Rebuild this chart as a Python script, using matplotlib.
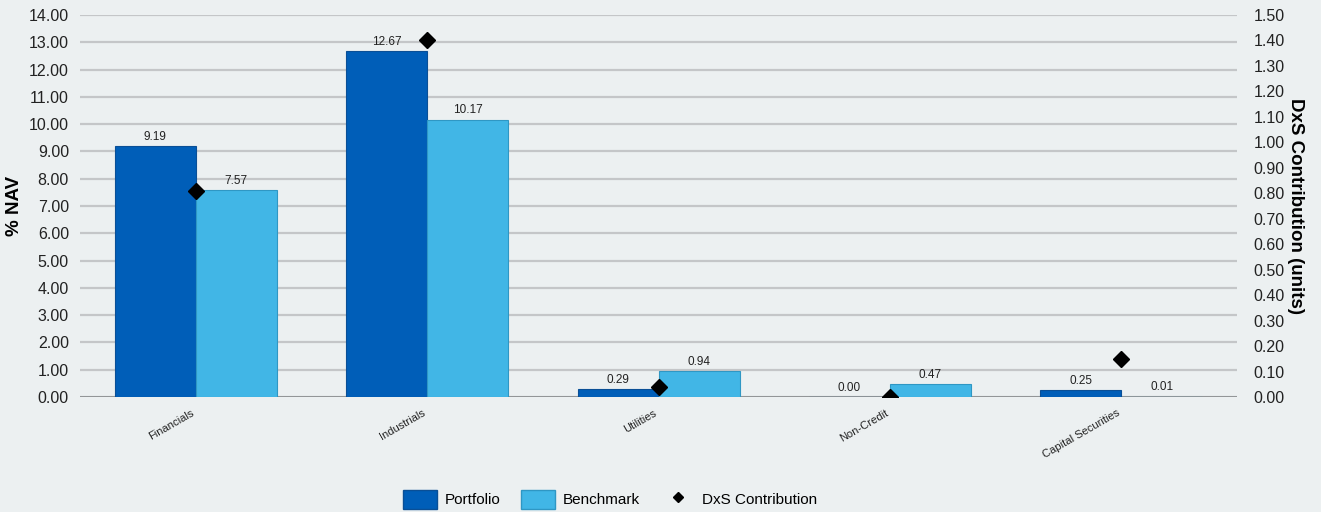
import numpy as np
import matplotlib.pyplot as plt
from matplotlib.ticker import MultipleLocator, FormatStrFormatter

plt.rcParams['font.family'] = ['Liberation Sans', 'DejaVu Sans']

categories = ['Financials', 'Industrials', 'Utilities', 'Non-Credit', 'Capital Securities']
portfolio = [9.19, 12.67, 0.29, 0.00, 0.25]
benchmark = [7.57, 10.17, 0.94, 0.47, 0.01]
dxs = [0.81, 1.40, 0.04, 0.00, 0.15]

bg = '#ecf0f1'
c_port = '#005eb8'
c_bench = '#41b6e6'

fig = plt.figure(figsize=(13.21, 5.12), dpi=100, facecolor=bg)
ax = fig.add_axes([0.0606, 0.2246, 0.8758, 0.7461])
ax.set_facecolor(bg)

x = np.arange(len(categories))
w = 0.35
b1 = ax.bar(x - w / 2, portfolio, w, color=c_port, edgecolor='#0a4f96', linewidth=0.8, zorder=2)
b2 = ax.bar(x + w / 2, benchmark, w, color=c_bench, edgecolor='#2f97c4', linewidth=0.8, zorder=2)

for bars, vals in ((b1, portfolio), (b2, benchmark)):
    for r, v in zip(bars, vals):
        ax.text(r.get_x() + r.get_width() / 2, v + 0.12, '%.2f' % v,
                ha='center', va='bottom', fontsize=8.5, color='#222222', zorder=3)

ax.set_xlim(-0.5, len(categories) - 0.5)
ax.set_ylim(0, 14)
ax.yaxis.set_major_locator(MultipleLocator(1))
ax.yaxis.set_major_formatter(FormatStrFormatter('%.2f'))
ax.grid(axis='y', color='#c4c6c8', linewidth=1.6, zorder=0)
ax.set_axisbelow(True)
for s in ax.spines.values():
    s.set_visible(False)
ax.axhline(0, color='#8e9193', linewidth=2, zorder=1)

ax.set_xticks(x)
ax.set_xticklabels(categories, rotation=30, ha='right', fontsize=8, color='#222222')
ax.tick_params(axis='x', length=0, pad=8)
ax.tick_params(axis='y', length=0, labelsize=11.5, colors='#222222', pad=8)
ax.set_ylabel('% NAV', fontsize=13.5, fontweight='bold', labelpad=4)

ax2 = ax.twinx()
ax2.set_ylim(0, 1.5)
ax2.yaxis.set_major_locator(MultipleLocator(0.1))
ax2.yaxis.set_major_formatter(FormatStrFormatter('%.2f'))
for s in ax2.spines.values():
    s.set_visible(False)
ax2.tick_params(axis='y', length=0, labelsize=11.5, colors='#222222', pad=12)
ax2.plot(x, dxs, linestyle='none', marker='D', markersize=8, color='black', zorder=4)
ax2.set_ylabel('DxS Contribution (units)', fontsize=13.5, fontweight='bold',
               rotation=-90, labelpad=14)

handles = [
    plt.Rectangle((0, 0), 1, 1, facecolor=c_port, edgecolor='#0a4f96'),
    plt.Rectangle((0, 0), 1, 1, facecolor=c_bench, edgecolor='#2f97c4'),
    plt.Line2D([], [], linestyle='none', marker='D', markersize=5, color='black'),
]
fig.legend(handles, ['Portfolio', 'Benchmark', 'DxS Contribution'], loc='center',
           bbox_to_anchor=(0.462, 0.025), ncol=3, frameon=False, fontsize=11,
           handlelength=2.2, handleheight=1.5, columnspacing=1.4, handletextpad=0.5)

fig.savefig('out.png', dpi=100, facecolor=bg)
